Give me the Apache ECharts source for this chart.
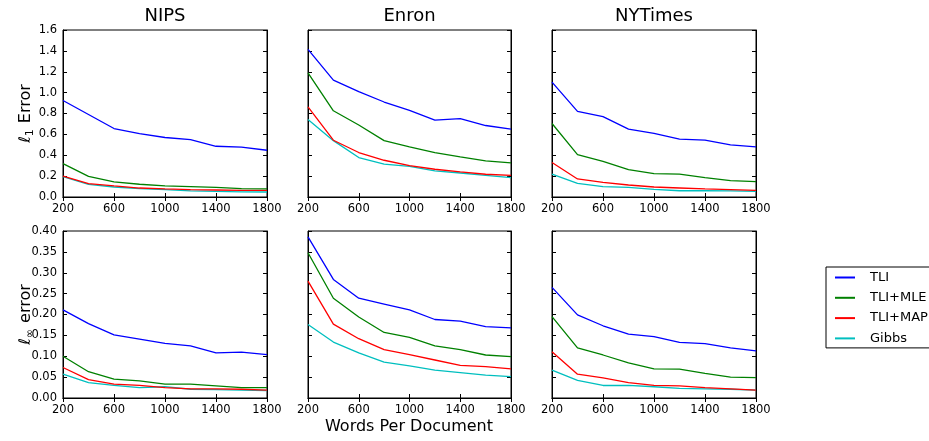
<!DOCTYPE html>
<html>
<head>
<meta charset="utf-8">
<script src="https://cdn.jsdelivr.net/npm/echarts@6/dist/echarts.min.js"></script>
<style>html,body{margin:0;padding:0;background:#fff;}#c{width:929px;height:441px;}</style>
</head>
<body>
<div id="c"></div>
<script>
const xCats = ['200','400','600','800','1000','1200','1400','1600','1800'];
const seriesNames = ['TLI','TLI+MLE','TLI+MAP','Gibbs'];
const panelTitles = ['NIPS','Enron','NYTimes'];

// l1 error (top row)
const nipsL1Tli   = [0.925,0.79,0.656,0.608,0.57,0.55,0.486,0.477,0.448];
const nipsL1Mle   = [0.32,0.198,0.144,0.122,0.106,0.10,0.093,0.08,0.077];
const nipsL1Map   = [0.20,0.128,0.106,0.086,0.077,0.07,0.067,0.064,0.064];
const nipsL1Gibbs = [0.195,0.12,0.096,0.08,0.07,0.058,0.054,0.05,0.048];

const enronL1Tli   = [1.414,1.12,1.01,0.91,0.83,0.736,0.75,0.685,0.65];
const enronL1Mle   = [1.19,0.826,0.69,0.54,0.48,0.426,0.384,0.346,0.326];
const enronL1Map   = [0.864,0.544,0.426,0.352,0.30,0.266,0.24,0.218,0.208];
const enronL1Gibbs = [0.742,0.54,0.378,0.314,0.294,0.25,0.23,0.208,0.186];

const nytL1Tli   = [1.10,0.82,0.77,0.65,0.61,0.554,0.544,0.50,0.48];
const nytL1Mle   = [0.704,0.406,0.342,0.262,0.224,0.22,0.186,0.157,0.147];
const nytL1Map   = [0.33,0.173,0.14,0.115,0.096,0.086,0.077,0.07,0.064];
const nytL1Gibbs = [0.22,0.13,0.10,0.093,0.074,0.06,0.06,0.058,0.054];

// l-infinity error (bottom row)
const nipsLinfTli   = [0.211,0.178,0.151,0.141,0.131,0.125,0.108,0.11,0.104];
const nipsLinfMle   = [0.10,0.063,0.045,0.041,0.033,0.033,0.029,0.025,0.025];
const nipsLinfMap   = [0.073,0.044,0.033,0.030,0.025,0.022,0.022,0.021,0.019];
const nipsLinfGibbs = [0.057,0.037,0.030,0.025,0.027,0.021,0.020,0.019,0.018];

const enronLinfTli   = [0.386,0.284,0.239,0.225,0.211,0.188,0.184,0.171,0.168];
const enronLinfMle   = [0.348,0.239,0.194,0.157,0.145,0.125,0.116,0.103,0.099];
const enronLinfMap   = [0.28,0.177,0.142,0.116,0.104,0.091,0.078,0.075,0.070];
const enronLinfGibbs = [0.176,0.134,0.108,0.086,0.077,0.067,0.061,0.055,0.051];

const nytLinfTli   = [0.265,0.199,0.173,0.153,0.147,0.133,0.130,0.120,0.113];
const nytLinfMle   = [0.195,0.12,0.103,0.084,0.070,0.069,0.059,0.050,0.049];
const nytLinfMap   = [0.111,0.057,0.048,0.037,0.030,0.029,0.025,0.022,0.019];
const nytLinfGibbs = [0.067,0.042,0.030,0.030,0.027,0.023,0.022,0.021,0.019];

const colors = ['#0000ff','#008000','#ff0000','#00bfbf'];

const panels = [
  [nipsL1Tli,nipsL1Mle,nipsL1Map,nipsL1Gibbs],
  [enronL1Tli,enronL1Mle,enronL1Map,enronL1Gibbs],
  [nytL1Tli,nytL1Mle,nytL1Map,nytL1Gibbs],
  [nipsLinfTli,nipsLinfMle,nipsLinfMap,nipsLinfGibbs],
  [enronLinfTli,enronLinfMle,enronLinfMap,enronLinfGibbs],
  [nytLinfTli,nytLinfMle,nytLinfMap,nytLinfGibbs]
];

const FONT = 'DejaVu Sans';
const lefts = [63, 308, 552];
const widths = [204, 203, 204];
const tops = [30, 231];
const H = 167;

const grids = [], xAxes = [], yAxes = [], series = [];
const tick = {show:true, inside:true, length:4, lineStyle:{color:'#000', width:1}};
for (let g = 0; g < 6; g++) {
  const row = Math.floor(g/3), col = g % 3;
  grids.push({left: lefts[col], width: widths[col], top: tops[row], height: H,
    show: true, borderColor: '#000', borderWidth: 1, containLabel: false});
  xAxes.push({type:'category', data:xCats, gridIndex:g, boundaryGap:false, position:'bottom',
    axisLine:{show:true, lineStyle:{color:'#000'}},
    axisTick:Object.assign({interval:1}, tick),
    axisLabel:{show:true, interval:1, color:'#000', fontFamily:FONT, fontSize:11.5, margin:6},
    splitLine:{show:false}});
  xAxes.push({type:'category', data:xCats, gridIndex:g, boundaryGap:false, position:'top',
    axisLine:{show:true, lineStyle:{color:'#000'}},
    axisTick:Object.assign({interval:1}, tick),
    axisLabel:{show:false}, splitLine:{show:false}});
  const yMax = row === 0 ? 1.6 : 0.4;
  const yInt = row === 0 ? 0.2 : 0.05;
  const dec = row === 0 ? 1 : 2;
  yAxes.push({type:'value', gridIndex:g, min:0, max:yMax, interval:yInt, position:'left',
    axisLine:{show:true, lineStyle:{color:'#000'}}, axisTick:tick,
    axisLabel:{show: col === 0, color:'#000', fontFamily:FONT, fontSize:11.5, margin:6,
      formatter: v => v.toFixed(dec)},
    splitLine:{show:false}});
  yAxes.push({type:'value', gridIndex:g, min:0, max:yMax, interval:yInt, position:'right',
    axisLine:{show:true, lineStyle:{color:'#000'}}, axisTick:tick,
    axisLabel:{show:false}, splitLine:{show:false}});
  for (let s = 0; s < 4; s++) {
    series.push({type:'line', name:seriesNames[s], xAxisIndex:2*g, yAxisIndex:2*g,
      data: panels[g][s], symbol:'none', showSymbol:false,
      lineStyle:{color:colors[s], width:1.3}, itemStyle:{color:colors[s]},
      animation:false, silent:true, z: 2 + (3 - s)});
  }
}

const graphics = [];
const titleX = [165, 409.5, 654];
for (let i = 0; i < 3; i++) {
  graphics.push({type:'text', x:titleX[i], y:16, style:{text:panelTitles[i],
    font:'18px "DejaVu Sans"', fill:'#000', textAlign:'center', textVerticalAlign:'middle'}});
}
graphics.push({type:'text', x:409, y:427, style:{text:'Words Per Document',
  font:'16px "DejaVu Sans"', fill:'#000', textAlign:'center', textVerticalAlign:'middle'}});
const richY = {
  l:{fontFamily:FONT, fontStyle:'italic', fontSize:16, fill:'#000'},
  s:{fontFamily:FONT, fontSize:11, fill:'#000', verticalAlign:'bottom', padding:[8,1,0,0]},
  t:{fontFamily:FONT, fontSize:16, fill:'#000'}
};
graphics.push({type:'text', x:26, y:113.5, rotation:Math.PI/2, style:{text:'{l|ℓ}{s|1}{t| Error}',
  rich:richY, textAlign:'center', textVerticalAlign:'middle'}});
graphics.push({type:'text', x:26, y:314.5, rotation:Math.PI/2, style:{text:'{l|ℓ}{s|∞}{t| error}',
  rich:richY, textAlign:'center', textVerticalAlign:'middle'}});

const chart = echarts.init(document.getElementById('c'), null, {renderer:'canvas'});
chart.setOption({
  animation:false,
  backgroundColor:'#fff',
  grid:grids, xAxis:xAxes, yAxis:yAxes, series:series,
  legend:{data:seriesNames, orient:'vertical', left:826, top:267,
    borderColor:'#000', borderWidth:1, borderRadius:0, padding:[4,20,3,9],
    itemWidth:20, itemHeight:14, itemGap:7.3, icon:'path://M0,6L20,6L20,8L0,8Z',
    textStyle:{fontFamily:FONT, fontSize:13, color:'#000', padding:[0,0,0,10]},
    selectedMode:false},
  graphic:graphics
});
</script>
</body>
</html>
